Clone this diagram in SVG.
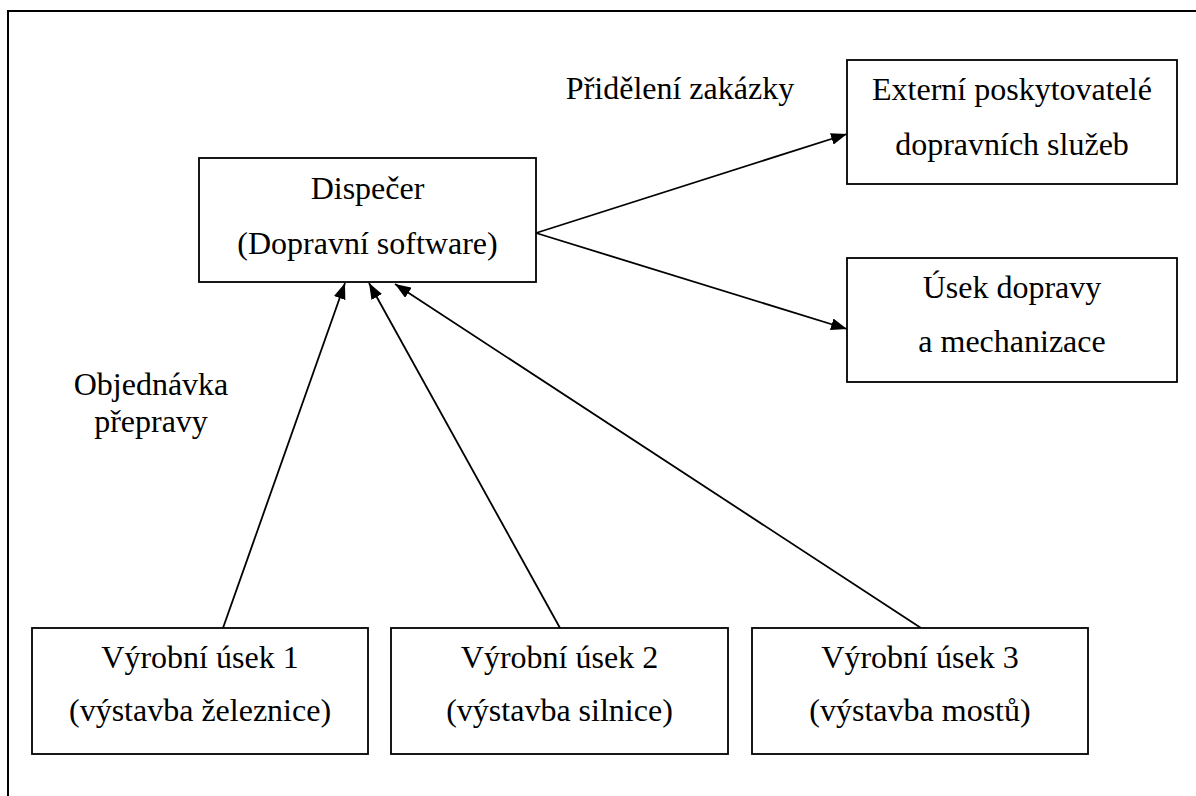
<svg xmlns="http://www.w3.org/2000/svg" width="1196" height="796" viewBox="0 0 1196 796">
<style>
.box{fill:#fff;stroke:#000;stroke-width:1.8}
.t{font-family:'Liberation Serif','Tinos','DejaVu Serif',serif;font-size:32px;fill:#000;text-anchor:middle}
.c{stroke:#000;stroke-width:1.8;fill:none;marker-end:url(#ah)}
</style>
<defs>
<marker id="ah" viewBox="0 0 16 12" refX="16" refY="6" markerWidth="16" markerHeight="12" markerUnits="userSpaceOnUse" orient="auto">
<path d="M0,0 L16,6 L0,12 z" fill="#000"/>
</marker>
</defs>
<rect width="1196" height="796" fill="#fff"/>
<path d="M8,796 V11 H1196" fill="none" stroke="#000" stroke-width="2"/>
<g id="connectors">
<line class="c" x1="536" y1="233" x2="847" y2="134"/>
<line class="c" x1="536" y1="233" x2="847" y2="329"/>
<line class="c" x1="223" y1="628" x2="345" y2="283"/>
<line class="c" x1="560" y1="628" x2="369" y2="283"/>
<line class="c" x1="921" y1="628" x2="395" y2="284"/>
</g>
<g id="dispecer" font-family="Liberation Serif, serif">
<rect class="box" x="199" y="158" width="337" height="124"/>
<text class="t" x="367.5" y="199">Dispečer</text>
<text class="t" x="367.5" y="254">(Dopravní software)</text>
</g>
<g id="externi">
<rect class="box" x="847" y="60" width="330" height="124"/>
<text class="t" x="1012" y="100">Externí poskytovatelé</text>
<text class="t" x="1012" y="155">dopravních služeb</text>
</g>
<g id="usek-dopravy">
<rect class="box" x="847" y="258" width="330" height="124"/>
<text class="t" x="1012" y="298">Úsek dopravy</text>
<text class="t" x="1012" y="352">a mechanizace</text>
</g>
<g id="vyrobni-1">
<rect class="box" x="32" y="628" width="336" height="126"/>
<text class="t" x="200" y="668">Výrobní úsek 1</text>
<text class="t" x="200" y="721">(výstavba železnice)</text>
</g>
<g id="vyrobni-2">
<rect class="box" x="391" y="628" width="337" height="126"/>
<text class="t" x="559.5" y="668">Výrobní úsek 2</text>
<text class="t" x="559.5" y="721">(výstavba silnice)</text>
</g>
<g id="vyrobni-3">
<rect class="box" x="752" y="628" width="336" height="126"/>
<text class="t" x="920" y="668">Výrobní úsek 3</text>
<text class="t" x="920" y="721">(výstavba mostů)</text>
</g>
<g id="labels">
<text class="t" x="680" y="99">Přidělení zakázky</text>
<text class="t" x="151" y="395">Objednávka</text>
<text class="t" x="151" y="432">přepravy</text>
</g>
</svg>
